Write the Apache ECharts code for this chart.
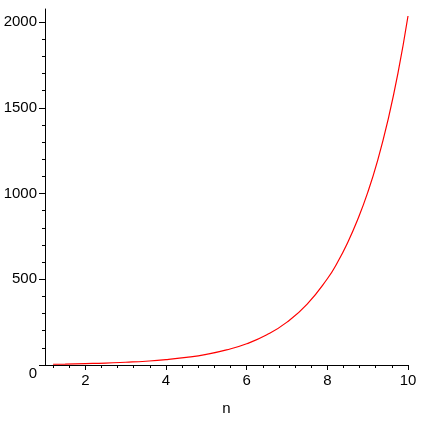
<!DOCTYPE html>
<html>
<head>
<meta charset="utf-8">
<script src="https://cdn.jsdelivr.net/npm/echarts@6/dist/echarts.min.js"></script>
<style>
  html, body { margin: 0; padding: 0; background: #fff; }
  #chart { width: 421px; height: 421px; }
</style>
</head>
<body>
<div id="chart"></div>
<script>
// values
const nValues = [1.2, 1.5, 2, 2.5, 3, 3.5, 4, 4.5, 5, 5.5, 6, 6.5, 7, 7.5, 8, 8.25, 8.5, 8.75, 9, 9.25, 9.5, 9.75, 10];
const yValues = [4.5, 5.5, 8, 11, 16, 22, 31, 44, 62, 88, 124, 176, 250, 355, 503, 598, 712, 847, 1005, 1195, 1425, 1700, 2035];

// tick labels / tick positions
const xLabels = [2, 4, 6, 8, 10];
const xMinorTicks = [1.2, 1.6, 2.4, 2.8, 3.2, 3.6, 4.4, 4.8, 5.2, 5.6, 6.4, 6.8, 7.2, 7.6, 8.4, 8.8, 9.2, 9.6];
const yLabels = [0, 500, 1000, 1500, 2000];
const yMinorTicks = [100, 200, 300, 400, 600, 700, 800, 900, 1100, 1200, 1300, 1400, 1600, 1700, 1800, 1900];

const chart = echarts.init(document.getElementById('chart'));
const font = { fontFamily: 'Liberation Sans, Arial, sans-serif', fontSize: 15, color: '#000' };
const black = { color: '#000', width: 1 };

const option = {
  backgroundColor: '#fff',
  animation: false,
  grid: { left: 45, right: 13, top: 9, bottom: 56 },
  xAxis: [{
    type: 'value',
    min: 1,
    max: 10,
    name: 'n',
    nameLocation: 'middle',
    nameGap: 36,
    nameTextStyle: font,
    splitLine: { show: false },
    axisLine: { onZero: false, lineStyle: black },
    axisTick: { customValues: xLabels, length: 5, lineStyle: black },
    axisLabel: Object.assign({ customValues: xLabels, margin: 8 }, font)
  }, {
    type: 'value',
    min: 1,
    max: 10,
    position: 'bottom',
    splitLine: { show: false },
    axisLine: { show: false },
    axisLabel: { show: false },
    axisTick: { customValues: xMinorTicks, length: 3, lineStyle: black }
  }],
  yAxis: [{
    type: 'value',
    min: 0,
    max: 2076,
    splitLine: { show: false },
    axisLine: { onZero: false, lineStyle: black },
    axisTick: { customValues: yLabels, length: 6, lineStyle: black },
    axisLabel: Object.assign({
      customValues: yLabels,
      margin: 8,
      formatter: function (v) { return v === 0 ? '{z|0}' : String(v); },
      rich: { z: Object.assign({ padding: [18, 0, 0, 0] }, font) }
    }, font)
  }, {
    type: 'value',
    min: 0,
    max: 2076,
    position: 'left',
    splitLine: { show: false },
    axisLine: { show: false },
    axisLabel: { show: false },
    axisTick: { customValues: yMinorTicks, length: 3, lineStyle: black }
  }],
  series: [{
    type: 'line',
    smooth: true,
    showSymbol: false,
    xAxisIndex: 0,
    yAxisIndex: 0,
    lineStyle: { color: '#ff0000', width: 1.2 },
    data: nValues.map((n, i) => [n, yValues[i]])
  }]
};

chart.setOption(option);
window.onresize = () => {
  chart.resize();
};
</script>
</body>
</html>
